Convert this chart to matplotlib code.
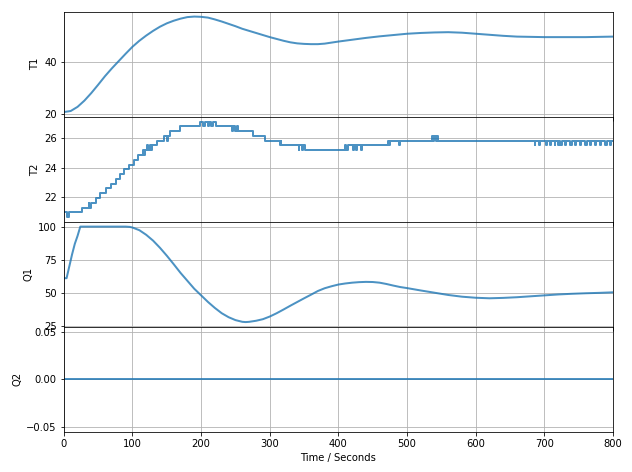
import numpy as np
import matplotlib
matplotlib.use('Agg')
import matplotlib.pyplot as plt

# T1 readings (time in s, temperature in degC)
t1_time = [0, 10, 20, 30, 40, 50, 60, 70, 80, 90, 100, 110, 120, 130, 140, 150,
           160, 170, 180, 190, 200, 210, 220, 230, 240, 250, 260, 270, 280, 290,
           300, 310, 320, 330, 340, 350, 360, 370, 380, 390, 400, 420, 440, 460,
           480, 500, 520, 540, 560, 580, 600, 620, 640, 660, 680, 700, 720, 740,
           760, 780, 800]
t1_value = [20.6, 21.0, 22.6, 25.0, 27.9, 31.1, 34.4, 37.4, 40.2, 43.0, 45.7, 48.0,
            50.0, 51.8, 53.4, 54.7, 55.7, 56.5, 57.1, 57.3, 57.2, 56.9, 56.2, 55.4,
            54.5, 53.6, 52.6, 51.8, 51.0, 50.2, 49.4, 48.7, 48.0, 47.4, 47.0, 46.8,
            46.7, 46.7, 46.9, 47.3, 47.7, 48.4, 49.1, 49.7, 50.2, 50.7, 51.0, 51.2,
            51.3, 51.1, 50.7, 50.3, 49.9, 49.6, 49.5, 49.4, 49.4, 49.4, 49.4, 49.5,
            49.6]

# T2 readings, quantised sensor, held until the next entry
t2_time = [0, 5, 7, 27, 36, 37, 39, 47, 53, 61, 69, 76, 82, 88, 95, 102, 108,
           115, 117, 118, 121, 123, 125, 127, 128, 136, 146, 150, 152, 155, 169,
           199, 203, 205, 210, 212, 215, 217, 222, 245, 247, 250, 252, 254, 276,
           293, 315, 316, 317, 342, 343, 347, 349, 352, 409, 411, 414, 421, 423,
           425, 427, 433, 434, 472, 473, 475, 488, 489, 536, 538, 539, 542, 543,
           545, 686, 687, 692, 693, 703, 704, 708, 710, 715, 716, 720, 722, 723,
           725, 730, 731, 737, 740, 745, 746, 752, 753, 759, 762, 767, 768, 774,
           775, 781, 782, 788, 791, 796, 797, 800]
t2_value = [20.99, 20.67, 20.99, 21.31, 21.63, 21.31, 21.63, 21.95, 22.28, 22.6,
            22.92, 23.24, 23.56, 23.89, 24.21, 24.53, 24.85, 25.17, 24.85, 25.17,
            25.5, 25.17, 25.5, 25.17, 25.5, 25.82, 26.14, 25.82, 26.14, 26.46,
            26.78, 27.1, 26.78, 27.1, 26.78, 27.1, 26.78, 27.1, 26.78, 26.46,
            26.78, 26.46, 26.78, 26.46, 26.14, 25.82, 25.5, 25.82, 25.5, 25.17,
            25.5, 25.17, 25.5, 25.17, 25.5, 25.17, 25.5, 25.17, 25.5, 25.17, 25.5,
            25.17, 25.5, 25.82, 25.5, 25.82, 25.5, 25.82, 26.14, 25.82, 26.14,
            25.82, 26.14, 25.82, 25.5, 25.82, 25.5, 25.82, 25.5, 25.82, 25.5,
            25.82, 25.5, 25.82, 25.5, 25.82, 25.5, 25.82, 25.5, 25.82, 25.5,
            25.82, 25.5, 25.82, 25.5, 25.82, 25.5, 25.82, 25.5, 25.82, 25.5,
            25.82, 25.5, 25.82, 25.5, 25.82, 25.5, 25.82, 25.82]

# Q1 heater output (%)
q1_time = [0, 4, 8, 12, 16, 20, 24, 90, 96, 100, 110, 120, 130, 140, 150, 160,
           170, 180, 190, 200, 210, 220, 230, 240, 250, 260, 265, 270, 280, 290,
           300, 310, 320, 330, 340, 350, 360, 370, 380, 390, 400, 410, 420, 430,
           440, 450, 460, 470, 480, 490, 500, 520, 540, 560, 580, 600, 620, 640,
           660, 680, 700, 720, 740, 760, 780, 800]
q1_value = [61, 61, 70, 79, 87, 93, 100, 100, 99.8, 99.3, 97.3, 93.8, 89.4, 84,
            78, 71.6, 65, 59, 53, 48, 43, 38.5, 34.5, 31.5, 29.3, 28.0, 27.8,
            28.0, 28.8, 30.0, 32.0, 34.5, 37.3, 40.2, 43.0, 45.8, 48.5, 51.3,
            53.4, 54.9, 56.2, 57.0, 57.6, 58.0, 58.2, 58.1, 57.6, 56.6, 55.4,
            54.3, 53.5, 51.7, 50.0, 48.3, 47.0, 46.2, 45.8, 46.1, 46.6, 47.3,
            48.0, 48.7, 49.2, 49.6, 49.9, 50.3]

# Q2 heater output (%), off the whole run
q2_time = [0, 800]
q2_value = [0, 0]

t1_ticks = [20, 40]
t2_ticks = [22, 24, 26]
q1_ticks = [25, 50, 75, 100]
q2_ticks = [-0.05, 0.0, 0.05]

line_kw = dict(color='#1f77b4', alpha=0.8, lw=2)

fig = plt.figure(figsize=(632 / 72, 472 / 72), dpi=72)

ax1 = plt.subplot(4, 1, 1)
ax1.plot(t1_time, t1_value, **line_kw)
ax1.set_ylabel('T1')
ax1.set_yticks(t1_ticks)

ax2 = plt.subplot(4, 1, 2, sharex=ax1)
ax2.plot(t2_time, t2_value, drawstyle='steps-post', **line_kw)
ax2.set_ylabel('T2')
ax2.set_yticks(t2_ticks)

ax3 = plt.subplot(4, 1, 3, sharex=ax1)
ax3.plot(q1_time, q1_value, **line_kw)
ax3.set_ylabel('Q1')
ax3.set_yticks(q1_ticks)

ax4 = plt.subplot(4, 1, 4, sharex=ax1)
ax4.plot(q2_time, q2_value, **line_kw)
ax4.set_ylabel('Q2')
ax4.set_yticks(q2_ticks)
ax4.set_xlabel('Time / Seconds')

for ax in [ax1, ax2, ax3, ax4]:
    ax.grid(True)
    ax.label_outer()
ax1.set_xlim(0, 800)

plt.subplots_adjust(left=0.101, right=0.970, top=0.975, bottom=0.085, hspace=0)
plt.savefig('out.png')
